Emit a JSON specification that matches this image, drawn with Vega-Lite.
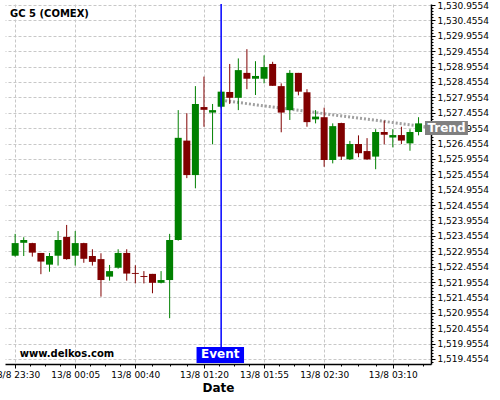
{
  "$schema": "https://vega.github.io/schema/vega-lite/v6.json",
  "width": 426,
  "height": 360,
  "autosize": {"type": "none"},
  "padding": {"left": 5, "top": 4, "right": 69, "bottom": 36},
  "background": "white",
  "config": {"font": "DejaVu Sans", "view": {"stroke": null}},
  "title": {"text": "GC 5 (COMEX)", "anchor": "start", "frame": "group", "orient": "top", "offset": 0, "baseline": "alphabetic", "dx": 5, "dy": 26, "fontSize": 10, "fontWeight": "bold", "color": "black"},
  "datasets": {
    "candles": [
      {"t": "2024-08-13T23:30:00", "open": 1522.81, "high": 1523.52, "low": 1522.78, "close": 1523.22},
      {"t": "2024-08-13T23:35:00", "open": 1523.23, "high": 1523.41, "low": 1522.80, "close": 1523.32},
      {"t": "2024-08-13T23:40:00", "open": 1523.22, "high": 1523.23, "low": 1522.78, "close": 1522.91},
      {"t": "2024-08-13T23:45:00", "open": 1522.90, "high": 1522.90, "low": 1522.21, "close": 1522.62},
      {"t": "2024-08-13T23:50:00", "open": 1522.52, "high": 1522.90, "low": 1522.29, "close": 1522.80},
      {"t": "2024-08-13T23:55:00", "open": 1522.81, "high": 1523.61, "low": 1522.49, "close": 1523.32},
      {"t": "2024-08-14T00:00:00", "open": 1523.42, "high": 1523.81, "low": 1522.68, "close": 1522.70},
      {"t": "2024-08-14T00:05:00", "open": 1522.81, "high": 1523.61, "low": 1522.49, "close": 1523.22},
      {"t": "2024-08-14T00:10:00", "open": 1523.22, "high": 1523.23, "low": 1522.58, "close": 1522.71},
      {"t": "2024-08-14T00:15:00", "open": 1522.80, "high": 1523.02, "low": 1522.49, "close": 1522.61},
      {"t": "2024-08-14T00:20:00", "open": 1522.70, "high": 1522.89, "low": 1521.48, "close": 1522.02},
      {"t": "2024-08-14T00:25:00", "open": 1522.13, "high": 1522.51, "low": 1522.00, "close": 1522.31},
      {"t": "2024-08-14T00:30:00", "open": 1522.42, "high": 1523.02, "low": 1522.39, "close": 1522.90},
      {"t": "2024-08-14T00:35:00", "open": 1522.90, "high": 1523.02, "low": 1522.00, "close": 1522.23},
      {"t": "2024-08-14T00:40:00", "open": 1522.25, "high": 1522.50, "low": 1521.91, "close": 1522.22},
      {"t": "2024-08-14T00:45:00", "open": 1522.15, "high": 1522.31, "low": 1521.91, "close": 1522.12},
      {"t": "2024-08-14T00:50:00", "open": 1522.22, "high": 1522.22, "low": 1521.59, "close": 1521.93},
      {"t": "2024-08-14T00:55:00", "open": 1521.93, "high": 1522.31, "low": 1521.91, "close": 1522.02},
      {"t": "2024-08-14T01:00:00", "open": 1522.02, "high": 1523.52, "low": 1520.78, "close": 1523.32},
      {"t": "2024-08-14T01:05:00", "open": 1523.32, "high": 1527.54, "low": 1523.30, "close": 1526.64},
      {"t": "2024-08-14T01:10:00", "open": 1526.55, "high": 1527.44, "low": 1525.33, "close": 1525.43},
      {"t": "2024-08-14T01:15:00", "open": 1525.43, "high": 1528.32, "low": 1525.00, "close": 1527.74},
      {"t": "2024-08-14T01:20:00", "open": 1527.64, "high": 1528.63, "low": 1527.00, "close": 1527.55},
      {"t": "2024-08-14T01:25:00", "open": 1527.46, "high": 1527.74, "low": 1526.43, "close": 1527.54},
      {"t": "2024-08-14T01:30:00", "open": 1527.65, "high": 1528.20, "low": 1527.60, "close": 1528.14},
      {"t": "2024-08-14T01:35:00", "open": 1528.13, "high": 1529.04, "low": 1527.74, "close": 1527.94},
      {"t": "2024-08-14T01:40:00", "open": 1527.94, "high": 1529.22, "low": 1527.54, "close": 1528.84},
      {"t": "2024-08-14T01:45:00", "open": 1528.75, "high": 1529.52, "low": 1528.22, "close": 1528.56},
      {"t": "2024-08-14T01:50:00", "open": 1528.56, "high": 1529.13, "low": 1528.03, "close": 1528.65},
      {"t": "2024-08-14T01:55:00", "open": 1528.56, "high": 1529.32, "low": 1528.41, "close": 1528.94},
      {"t": "2024-08-14T02:00:00", "open": 1529.04, "high": 1529.11, "low": 1528.33, "close": 1528.33},
      {"t": "2024-08-14T02:05:00", "open": 1528.32, "high": 1528.41, "low": 1526.82, "close": 1527.46},
      {"t": "2024-08-14T02:10:00", "open": 1527.54, "high": 1528.84, "low": 1527.22, "close": 1528.75},
      {"t": "2024-08-14T02:15:00", "open": 1528.75, "high": 1528.75, "low": 1528.02, "close": 1528.14},
      {"t": "2024-08-14T02:20:00", "open": 1528.12, "high": 1528.22, "low": 1527.00, "close": 1527.15},
      {"t": "2024-08-14T02:25:00", "open": 1527.24, "high": 1527.54, "low": 1527.11, "close": 1527.33},
      {"t": "2024-08-14T02:30:00", "open": 1527.31, "high": 1527.62, "low": 1525.70, "close": 1525.92},
      {"t": "2024-08-14T02:35:00", "open": 1525.92, "high": 1527.11, "low": 1525.81, "close": 1527.02},
      {"t": "2024-08-14T02:40:00", "open": 1527.12, "high": 1527.13, "low": 1525.92, "close": 1526.03},
      {"t": "2024-08-14T02:45:00", "open": 1525.94, "high": 1526.54, "low": 1525.92, "close": 1526.44},
      {"t": "2024-08-14T02:50:00", "open": 1526.44, "high": 1526.72, "low": 1526.01, "close": 1526.14},
      {"t": "2024-08-14T02:55:00", "open": 1526.21, "high": 1526.63, "low": 1525.92, "close": 1525.94},
      {"t": "2024-08-14T03:00:00", "open": 1526.03, "high": 1526.92, "low": 1525.62, "close": 1526.83},
      {"t": "2024-08-14T03:05:00", "open": 1526.83, "high": 1527.20, "low": 1526.43, "close": 1526.74},
      {"t": "2024-08-14T03:10:00", "open": 1526.65, "high": 1526.92, "low": 1526.33, "close": 1526.73},
      {"t": "2024-08-14T03:15:00", "open": 1526.73, "high": 1527.00, "low": 1526.44, "close": 1526.55},
      {"t": "2024-08-14T03:20:00", "open": 1526.46, "high": 1526.92, "low": 1526.22, "close": 1526.83},
      {"t": "2024-08-14T03:25:00", "open": 1526.83, "high": 1527.31, "low": 1526.72, "close": 1527.11}
    ]
  },
  "layer": [
    {
      "data": {"values": [{"t": "2024-08-14T01:30:00", "v": 1527.86}, {"t": "2024-08-14T03:29:00", "v": 1527.0}]},
      "mark": {"type": "line", "color": "#a0a0a0", "strokeWidth": 3, "strokeDash": [2, 2]},
      "encoding": {
        "x": {"field": "t", "type": "temporal", "title": "Date"},
        "y": {"field": "v", "type": "quantitative", "title": null}
      }
    },
    {
      "data": {"name": "candles"},
      "mark": {"type": "rule", "strokeWidth": 1},
      "encoding": {
        "x": {
          "field": "t", "type": "temporal", "title": "Date",
          "scale": {"domain": [{"year": 2024, "month": 8, "date": 13, "hours": 23, "minutes": 27}, {"year": 2024, "month": 8, "date": 14, "hours": 3, "minutes": 29, "seconds": 20}], "nice": false},
          "axis": {
            "title": "Date", "titleFontSize": 12, "titleFontWeight": "bold", "titleColor": "black", "titlePadding": 3,
            "tickCount": 500,
            "values": [
              {"year": 2024, "month": 8, "date": 13, "hours": 23, "minutes": 30},
              {"year": 2024, "month": 8, "date": 13, "hours": 23, "minutes": 38, "seconds": 45},
              {"year": 2024, "month": 8, "date": 13, "hours": 23, "minutes": 47, "seconds": 30},
              {"year": 2024, "month": 8, "date": 13, "hours": 23, "minutes": 56, "seconds": 15},
              {"year": 2024, "month": 8, "date": 14, "hours": 0, "minutes": 5},
              {"year": 2024, "month": 8, "date": 14, "hours": 0, "minutes": 13, "seconds": 45},
              {"year": 2024, "month": 8, "date": 14, "hours": 0, "minutes": 22, "seconds": 30},
              {"year": 2024, "month": 8, "date": 14, "hours": 0, "minutes": 31, "seconds": 15},
              {"year": 2024, "month": 8, "date": 14, "hours": 0, "minutes": 40},
              {"year": 2024, "month": 8, "date": 14, "hours": 0, "minutes": 50},
              {"year": 2024, "month": 8, "date": 14, "hours": 1, "minutes": 0},
              {"year": 2024, "month": 8, "date": 14, "hours": 1, "minutes": 10},
              {"year": 2024, "month": 8, "date": 14, "hours": 1, "minutes": 20},
              {"year": 2024, "month": 8, "date": 14, "hours": 1, "minutes": 28, "seconds": 45},
              {"year": 2024, "month": 8, "date": 14, "hours": 1, "minutes": 37, "seconds": 30},
              {"year": 2024, "month": 8, "date": 14, "hours": 1, "minutes": 46, "seconds": 15},
              {"year": 2024, "month": 8, "date": 14, "hours": 1, "minutes": 55},
              {"year": 2024, "month": 8, "date": 14, "hours": 2, "minutes": 3, "seconds": 45},
              {"year": 2024, "month": 8, "date": 14, "hours": 2, "minutes": 12, "seconds": 30},
              {"year": 2024, "month": 8, "date": 14, "hours": 2, "minutes": 21, "seconds": 15},
              {"year": 2024, "month": 8, "date": 14, "hours": 2, "minutes": 30},
              {"year": 2024, "month": 8, "date": 14, "hours": 2, "minutes": 40},
              {"year": 2024, "month": 8, "date": 14, "hours": 2, "minutes": 50},
              {"year": 2024, "month": 8, "date": 14, "hours": 3, "minutes": 0},
              {"year": 2024, "month": 8, "date": 14, "hours": 3, "minutes": 10},
              {"year": 2024, "month": 8, "date": 14, "hours": 3, "minutes": 18, "seconds": 45},
              {"year": 2024, "month": 8, "date": 14, "hours": 3, "minutes": 27, "seconds": 30}
            ],
            "labelExpr": "indexof(['23:30:00','00:05:00','00:40:00','01:20:00','01:55:00','02:30:00','03:10:00'], timeFormat(datum.value, '%H:%M:%S')) >= 0 ? '13/8 ' + timeFormat(datum.value, '%H:%M') : ''",
            "labelFontSize": 9, "labelColor": "black", "labelFlush": false, "labelOverlap": false, "labelBound": false, "labelPadding": 2,
            "tickSize": {"condition": {"test": "indexof(['23:30:00','00:05:00','00:40:00','01:20:00','01:55:00','02:30:00','03:10:00'], timeFormat(datum.value, '%H:%M:%S')) >= 0", "value": 4}, "value": 2},
            "tickColor": "black", "domainColor": "black", "domainWidth": 1.5,
            "grid": true, "gridColor": "#c8c8c8", "gridDash": [3, 2],
            "gridOpacity": {"condition": {"test": "indexof(['23:30:00','00:05:00','00:40:00','01:20:00','01:55:00','02:30:00','03:10:00'], timeFormat(datum.value, '%H:%M:%S')) >= 0", "value": 1}, "value": 0}
          }
        },
        "y": {
          "field": "low", "type": "quantitative", "title": null,
          "scale": {"domain": [1519.292, 1530.988], "nice": false, "zero": false},
          "axis": {
            "orient": "right", "title": null,
            "tickCount": 500,
            "values": [1519.3554,1519.4554,1519.5554,1519.6554,1519.7554,1519.8554,1519.9554,
              1520.0554,1520.1554,1520.2554,1520.3554,1520.4554,1520.5554,1520.6554,1520.7554,1520.8554,1520.9554,
              1521.0554,1521.1554,1521.2554,1521.3554,1521.4554,1521.5554,1521.6554,1521.7554,1521.8554,1521.9554,
              1522.0554,1522.1554,1522.2554,1522.3554,1522.4554,1522.5554,1522.6554,1522.7554,1522.8554,1522.9554,
              1523.0554,1523.1554,1523.2554,1523.3554,1523.4554,1523.5554,1523.6554,1523.7554,1523.8554,1523.9554,
              1524.0554,1524.1554,1524.2554,1524.3554,1524.4554,1524.5554,1524.6554,1524.7554,1524.8554,1524.9554,
              1525.0554,1525.1554,1525.2554,1525.3554,1525.4554,1525.5554,1525.6554,1525.7554,1525.8554,1525.9554,
              1526.0554,1526.1554,1526.2554,1526.3554,1526.4554,1526.5554,1526.6554,1526.7554,1526.8554,1526.9554,
              1527.0554,1527.1554,1527.2554,1527.3554,1527.4554,1527.5554,1527.6554,1527.7554,1527.8554,1527.9554,
              1528.0554,1528.1554,1528.2554,1528.3554,1528.4554,1528.5554,1528.6554,1528.7554,1528.8554,1528.9554,
              1529.0554,1529.1554,1529.2554,1529.3554,1529.4554,1529.5554,1529.6554,1529.7554,1529.8554,1529.9554,
              1530.0554,1530.1554,1530.2554,1530.3554,1530.4554,1530.5554,1530.6554,1530.7554,1530.8554,1530.9554],
            "labelExpr": "abs((datum.value - 1519.4554) * 2 - round((datum.value - 1519.4554) * 2)) < 0.01 ? format(datum.value, ',.4f') : ''",
            "labelFontSize": 9, "labelColor": "black", "labelPadding": 2, "labelOverlap": false, "labelBound": false, "labelFlush": false,
            "tickSize": {"condition": {"test": "abs((datum.value - 1519.4554) * 2 - round((datum.value - 1519.4554) * 2)) < 0.01", "value": 4}, "value": 2},
            "tickColor": "black", "domainColor": "black", "domainWidth": 1.5,
            "grid": true, "gridColor": "#c8c8c8", "gridDash": [3, 2],
            "gridOpacity": {"condition": {"test": "abs((datum.value - 1519.4554) * 2 - round((datum.value - 1519.4554) * 2)) < 0.01", "value": 1}, "value": 0}
          }
        },
        "y2": {"field": "high"},
        "color": {"condition": {"test": "datum.close >= datum.open", "value": "#008000"}, "value": "#800000"}
      }
    },
    {
      "data": {"name": "candles"},
      "mark": {"type": "bar", "width": 7},
      "encoding": {
        "x": {"field": "t", "type": "temporal", "title": "Date"},
        "y": {"field": "open", "type": "quantitative", "title": null},
        "y2": {"field": "close"},
        "color": {"condition": {"test": "datum.close >= datum.open", "value": "#008000"}, "value": "#800000"}
      }
    },
    {
      "data": {"values": [{"t": "2024-08-14T01:30:00", "top": 1530.99, "bottom": 1519.84}]},
      "mark": {"type": "rule", "color": "#0000ff", "strokeWidth": 1.5},
      "encoding": {
        "x": {"field": "t", "type": "temporal", "title": "Date"},
        "y": {"field": "top", "type": "quantitative", "title": null},
        "y2": {"field": "bottom"}
      }
    },
    {
      "data": {"values": [{"t1": "2024-08-14T01:15:40", "t2": "2024-08-14T01:43:20", "v1": 1519.325, "v2": 1519.844}]},
      "mark": {"type": "rect", "color": "#0000ff"},
      "encoding": {
        "x": {"field": "t1", "type": "temporal", "title": "Date"},
        "x2": {"field": "t2"},
        "y": {"field": "v1", "type": "quantitative", "title": null},
        "y2": {"field": "v2"}
      }
    },
    {
      "data": {"values": [{"t": "2024-08-14T01:29:30", "v": 1519.503, "label": "Event"}]},
      "mark": {"type": "text", "color": "white", "fontSize": 12, "fontWeight": "bold", "align": "center", "baseline": "alphabetic"},
      "encoding": {
        "x": {"field": "t", "type": "temporal", "title": "Date"},
        "y": {"field": "v", "type": "quantitative", "title": null},
        "text": {"field": "label"}
      }
    },
    {
      "data": {"values": [{"t1": "2024-08-14T03:28:45", "t2": "2024-08-14T03:53:45", "v1": 1526.732, "v2": 1527.187}]},
      "mark": {"type": "rect", "color": "#808080"},
      "encoding": {
        "x": {"field": "t1", "type": "temporal", "title": "Date"},
        "x2": {"field": "t2"},
        "y": {"field": "v1", "type": "quantitative", "title": null},
        "y2": {"field": "v2"}
      }
    },
    {
      "data": {"values": [{"t": "2024-08-14T03:41:15", "v": 1526.82, "label": "Trend"}]},
      "mark": {"type": "text", "color": "white", "fontSize": 12, "fontWeight": "bold", "align": "center", "baseline": "alphabetic"},
      "encoding": {
        "x": {"field": "t", "type": "temporal", "title": "Date"},
        "y": {"field": "v", "type": "quantitative", "title": null},
        "text": {"field": "label"}
      }
    },
    {
      "data": {"values": [{"t": "2024-08-13T23:32:40", "v": 1519.519, "label": "www.delkos.com"}]},
      "mark": {"type": "text", "color": "black", "fontSize": 10, "fontWeight": "bold", "align": "left", "baseline": "alphabetic"},
      "encoding": {
        "x": {"field": "t", "type": "temporal", "title": "Date"},
        "y": {"field": "v", "type": "quantitative", "title": null},
        "text": {"field": "label"}
      }
    }
  ]
}
